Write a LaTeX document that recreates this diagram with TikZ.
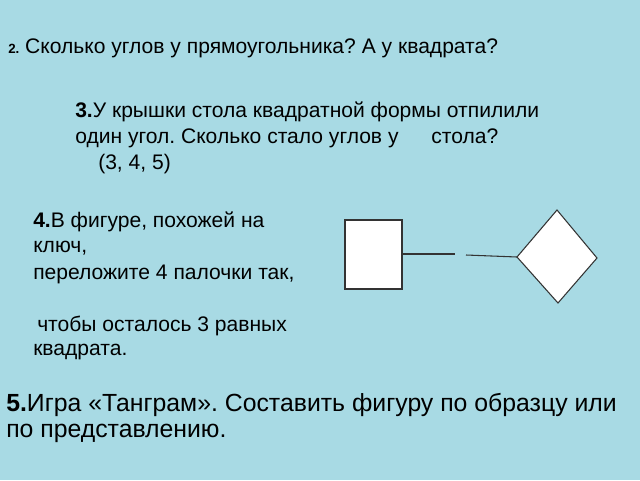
\documentclass[tikz,border=0pt]{standalone}
\usepackage{fontspec}
\setmainfont{Liberation Sans}
\frenchspacing
\definecolor{bg}{RGB}{168,218,228}
\begin{document}
\begin{tikzpicture}[x=0.75pt,y=-0.75pt,
  txt/.style={anchor=west,inner sep=0pt,font=\fontsize{15.8}{18}\selectfont},
  big/.style={anchor=west,inner sep=0pt,font=\fontsize{18.6}{22}\selectfont},
  shp/.style={draw=black!80,fill=white,line width=0.8pt}]
\fill[bg] (0,0) rectangle (640,480);
\useasboundingbox (0,0) rectangle (640,480);
\node[txt] (t2) at (8,48) {\textbf{\fontsize{10}{12}\selectfont 2.} Сколько углов у прямоугольника? А у квадрата?};
\node[txt] (t3a) at (75,112) {\textbf{3.}У крышки стола квадратной формы отпилили};
\node[txt] (t3b) at (75,138) {один угол. Сколько стало углов у \quad\ стола?};
\node[txt] (t3c) at (98,164) {(3, 4, 5)};
\node[txt] (t4a) at (33,222) {\textbf{4.}В фигуре, похожей на};
\node[txt] (t4b) at (33,248) {ключ,};
\node[txt] (t4c) at (33,274) {переложите 4 палочки так,};
\node[txt] (t4d) at (37,326) {чтобы осталось 3 равных};
\node[txt] (t4e) at (33,352) {квадрата.};
\node[big] (t5a) at (6,405) {\textbf{5.}Игра «Танграм». Составить фигуру по образцу или};
\node[big] (t5b) at (6,433) {по представлению.};
\draw[shp] (345,220) rectangle (402,289);
\coordinate (r) at (402,254);
\coordinate (m1) at (455,254);
\coordinate (m2) at (466,255);
\coordinate (dl) at (517,257);
\draw[shp] (557,210) -- (597,258) -- (558,303) -- (dl) -- cycle;
\draw[black!80,line width=0.8pt] (r) -- (m1);
\draw[black!80,line width=0.8pt] (m2) -- (dl);
\end{tikzpicture}
\end{document}
